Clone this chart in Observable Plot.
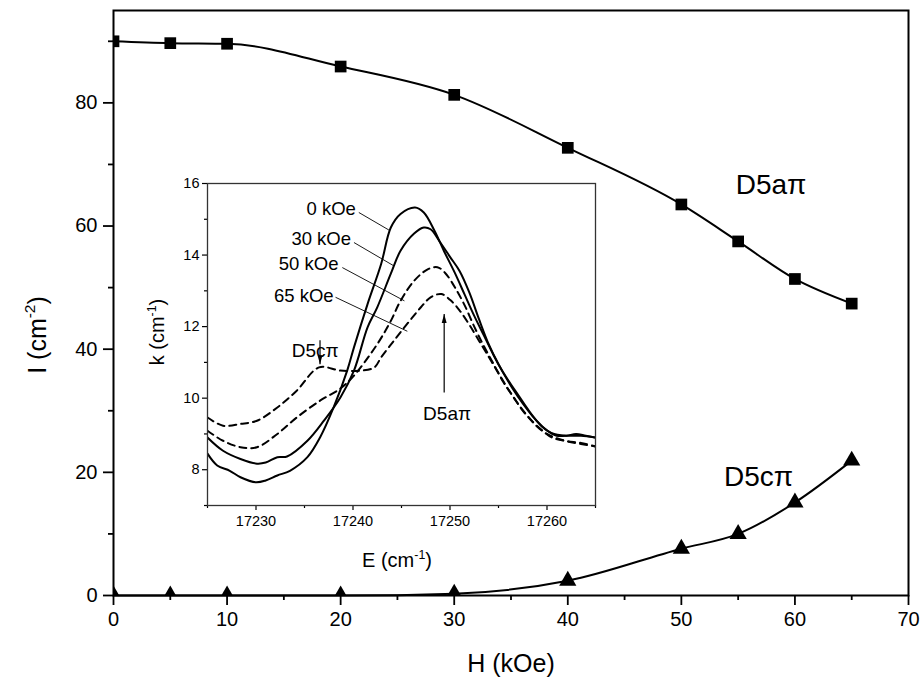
<!DOCTYPE html>
<html><head><meta charset="utf-8">
<script src="https://cdn.jsdelivr.net/npm/d3@7"></script>
<script src="https://cdn.jsdelivr.net/npm/@observablehq/plot@0.6"></script>
<style>
body{margin:0;background:white;}
#wrap{position:relative;width:924px;height:684px;}
#inset{position:absolute;left:140px;top:170px;pointer-events:none;}
</style></head><body><div id="wrap"><div id="main"></div><div id="inset"></div></div>
<script>
// ---------- main chart data ----------
const fieldH = [0, 5, 10, 20, 30, 40, 50, 55, 60, 65];
const intensityA = [90.0, 89.7, 89.6, 85.9, 81.3, 72.7, 63.5, 57.5, 51.4, 47.4];
const intensityC = [0, 0, 0, 0, 0.3, 2.4, 7.6, 10.0, 15.1, 21.9];
const xTicksMain = [0, 10, 20, 30, 40, 50, 60, 70];
const xMinorMain = [5, 15, 25, 35, 45, 55, 65];
const yTicksMain = [0, 20, 40, 60, 80];
const yMinorMain = [10, 30, 50, 70, 90];
const mainLabelText = ["D5aπ", "D5cπ"];
const mainLabelH = [57.9, 56.8];
const mainLabelI = [66.6, 19.2];

// ---------- inset data (E in cm-1, k in cm-1) ----------
const E0  = [17225,17226,17227.3,17228.4,17230,17231,17232.2,17233.5,17235.3,17236.6,17238,17239.4,17240.1,17241.5,17242.9,17243.9,17244.9,17246.4,17247.3,17248.4,17249.4,17250.5,17251.5,17252.5,17253.5,17254.5,17255.5,17256.5,17257.5,17258.5,17259.5,17260.5,17262,17263.5,17265];
const k0  = [8.45,8.12,7.97,7.79,7.65,7.7,7.84,7.97,8.35,8.9,9.74,10.77,11.42,12.63,13.75,14.77,15.15,15.33,15.19,14.68,14.1,13.5,12.9,12.3,11.75,11.2,10.7,10.25,9.85,9.5,9.2,9.02,8.95,8.95,8.9];
const E30 = [17225,17226.6,17228.4,17230.1,17231,17232.2,17233.2,17235.3,17237,17238.7,17240.1,17241.5,17242.5,17243.9,17244.9,17246.3,17247.3,17248,17249,17250,17251,17252,17253,17254,17255,17256,17257,17258,17259,17260,17261,17262,17263,17264,17265];
const k30 = [8.9,8.53,8.3,8.17,8.2,8.35,8.37,8.81,9.37,10.02,10.77,11.98,12.54,13.48,14.12,14.6,14.77,14.72,14.35,13.95,13.55,12.95,12.2,11.5,10.95,10.5,10.1,9.7,9.35,9.1,8.95,8.95,9.0,8.95,8.9];
const E50 = [17225,17226.6,17228.4,17230.1,17232.2,17234.2,17236.6,17238.7,17240.1,17242.5,17243.9,17244.9,17246.3,17247.7,17248.7,17249.5,17250.5,17251.5,17252.5,17253.5,17254.5,17255.5,17256.5,17257.5,17258.5,17259.5,17260.5,17262,17263.5,17265];
const k50 = [9.09,8.81,8.63,8.63,9.0,9.46,9.93,10.27,10.63,11.51,12.16,12.72,13.28,13.6,13.66,13.5,13.1,12.6,12.0,11.45,10.95,10.45,10.05,9.65,9.35,9.1,8.9,8.8,8.75,8.65];
const E65 = [17225,17226.6,17228.4,17230.1,17232.2,17234.2,17236.5,17238.7,17240.8,17242.2,17242.9,17244.2,17245.6,17247,17248,17249.1,17250,17251,17252,17253,17254,17255,17256,17257,17258,17259,17260,17261,17262,17263.5,17265];
const k65 = [9.46,9.23,9.28,9.37,9.74,10.21,10.86,10.77,10.77,10.86,11.14,11.6,12.08,12.54,12.82,12.91,12.75,12.45,12.05,11.6,11.15,10.7,10.25,9.85,9.5,9.2,9.0,8.88,8.8,8.72,8.65];
const fieldNames = ["0 kOe", "30 kOe", "50 kOe", "65 kOe"];
const insetXTicks = [17230, 17240, 17250, 17260];
const insetXMinor = [17225, 17235, 17245, 17255, 17265];
const insetYTicks = [8, 10, 12, 14, 16];
const insetYMinor = [7, 9, 11, 13, 15];
// label anchors (text end) and leader lines
const fieldLabelE = [17240.3, 17239.8, 17238.5, 17238.0];
const fieldLabelK = [15.29, 14.46, 13.75, 12.86];
const leaderE1 = [17240.6, 17240.1, 17238.9, 17238.2];
const leaderK1 = [15.19, 14.35, 13.65, 12.82];
const leaderE2 = [17243.7, 17244.2, 17245.3, 17245.6];
const leaderK2 = [14.70, 13.70, 12.72, 11.87];
// peak markers: name, text position, arrow start, arrow tip
const peakName = ["D5cπ", "D5aπ"];
const peakTextE = [17236.1, 17249.7];
const peakTextK = [11.33, 9.57];
const peakArrowE = [17236.6, 17249.4];
const peakArrowK1 = [11.62, 10.16];
const peakArrowK2 = [10.95, 12.35];

const FONT = "'Liberation Sans', Arial, sans-serif";

// ---------- main chart ----------
const ptsA = fieldH.map((h, i) => ({h, v: intensityA[i]}));
const ptsC = fieldH.map((h, i) => ({h, v: intensityC[i]}));
const mainLabels = mainLabelText.map((t, i) => ({t, h: mainLabelH[i], v: mainLabelI[i]}));

const main = Plot.plot({
  width: 924, height: 684,
  marginLeft: 113, marginRight: 16, marginTop: 10, marginBottom: 89,
  x: {domain: [0, 70]},
  y: {domain: [0, 95]},
  style: {fontFamily: FONT, fontSize: "20px", color: "black", background: "white"},
  marks: [
    Plot.axisX({ticks: xTicksMain, tickSize: 10, tickPadding: 6, strokeWidth: 1.8, label: null, tickFormat: d => String(d), fontSize: 20}),
    Plot.axisX({ticks: xMinorMain, tickSize: 5, strokeWidth: 1.8, label: null, tickFormat: () => ""}),
    Plot.axisY({ticks: yTicksMain, tickSize: 10, tickPadding: 6, strokeWidth: 1.8, label: null, tickFormat: d => String(d), fontSize: 20}),
    Plot.axisY({ticks: yMinorMain, tickSize: 5, strokeWidth: 1.8, label: null, tickFormat: () => ""}),
    Plot.line(ptsA, {x: "h", y: "v", curve: "monotone-x", stroke: "black", strokeWidth: 2}),
    Plot.line(ptsC, {x: "h", y: "v", curve: "monotone-x", stroke: "black", strokeWidth: 2}),
    Plot.dot(ptsA, {x: "h", y: "v", symbol: "square", r: 6.6, fill: "black", stroke: "none", clip: true}),
    Plot.dot(ptsC, {x: "h", y: "v", symbol: "triangle", r: 6.4, fill: "black", stroke: "none", clip: true}),
    Plot.frame({stroke: "black", strokeWidth: 2}),
    Plot.text(mainLabels, {x: "h", y: "v", text: "t", fontSize: 28, fill: "black"})
  ]
});
document.getElementById("main").appendChild(main);

// axis titles with superscripts
function addTitle(svg, x, y, rotate, size, parts) {
  const t = d3.select(svg).append("text")
    .attr("text-anchor", "middle")
    .attr("font-family", FONT).attr("font-size", size).attr("fill", "black")
    .attr("transform", `translate(${x},${y})` + (rotate ? " rotate(-90)" : ""));
  const sup = Math.round(size * 0.42);
  parts.forEach(p => {
    const s = t.append("tspan").text(p.text);
    if (p.sup) s.attr("font-size", size * 0.62).attr("dy", -sup);
    else if (p.after) s.attr("dy", sup);
  });
  return t;
}
addTitle(main, 511, 672, false, 25, [{text: "H (kOe)"}]);
addTitle(main, 46, 335, true, 25, [{text: "I (cm"}, {text: "-2", sup: true}, {text: ")", after: true}]);

// ---------- inset ----------
const spectra = [];
[[E0, k0], [E30, k30], [E50, k50], [E65, k65]].forEach(([E, k], j) => {
  E.forEach((e, i) => spectra.push({field: fieldNames[j], dashed: j >= 2, E: e, k: k[i]}));
});
const fieldLabels = fieldNames.map((t, i) => ({t, E: fieldLabelE[i], k: fieldLabelK[i],
  E1: leaderE1[i], k1: leaderK1[i], E2: leaderE2[i], k2: leaderK2[i]}));
const peaks = peakName.map((t, i) => ({t, E: peakTextE[i], k: peakTextK[i],
  aE: peakArrowE[i], k1: peakArrowK1[i], k2: peakArrowK2[i], up: peakArrowK2[i] > peakArrowK1[i]}));

const headSymbol = {draw(ctx, size) { const s = Math.sqrt(size); ctx.moveTo(0, 0); ctx.lineTo(s * 0.28, s); ctx.lineTo(-s * 0.28, s); ctx.closePath(); }};

const inset = Plot.plot({
  width: 470, height: 420,
  marginLeft: 67, marginRight: 15, marginTop: 13, marginBottom: 85,
  x: {domain: [17225, 17265]},
  y: {domain: [7, 16]},
  style: {fontFamily: FONT, fontSize: "14px", color: "black", background: "transparent"},
  marks: [
    Plot.axisX({ticks: insetXTicks, tickSize: 5, tickPadding: 5, strokeWidth: 1.2, label: null, tickFormat: d => String(d), fontSize: 14.5}),
    Plot.axisX({ticks: insetXMinor, tickSize: 3, strokeWidth: 1.2, label: null, tickFormat: () => ""}),
    Plot.axisY({ticks: insetYTicks, tickSize: 5, tickPadding: 3, strokeWidth: 1.2, label: null, tickFormat: d => String(d), fontSize: 14.5}),
    Plot.axisY({ticks: insetYMinor, tickSize: 3, strokeWidth: 1.2, label: null, tickFormat: () => ""}),
    Plot.line(spectra.filter(d => !d.dashed), {x: "E", y: "k", z: "field", curve: "catmull-rom", stroke: "black", strokeWidth: 2, clip: true}),
    Plot.line(spectra.filter(d => d.dashed), {x: "E", y: "k", z: "field", curve: "catmull-rom", stroke: "black", strokeWidth: 2, strokeDasharray: "7,5", clip: true}),
    Plot.link(fieldLabels, {x1: "E1", y1: "k1", x2: "E2", y2: "k2", stroke: "black", strokeWidth: 0.9}),
    Plot.text(fieldLabels, {x: "E", y: "k", text: "t", textAnchor: "end", fontSize: 18.5, fill: "black", letterSpacing: "-0.4px"}),
    Plot.link(peaks, {x1: "aE", y1: "k1", x2: "aE", y2: "k2", stroke: "black", strokeWidth: 1.2}),
    Plot.dot(peaks, {x: "aE", y: "k2", symbol: headSymbol, r: 5, fill: "black", stroke: "none", rotate: d => d.up ? 0 : 180}),
    Plot.text(peaks, {x: "E", y: "k", text: "t", fontSize: 19, fill: "black", letterSpacing: "-0.4px"}),
    Plot.frame({stroke: "#333", strokeWidth: 1.3})
  ]
});
document.getElementById("inset").appendChild(inset);
addTitle(inset, 257, 397, false, 20, [{text: "E (cm"}, {text: "-1", sup: true}, {text: ")", after: true}]);
addTitle(inset, 24, 162, true, 20, [{text: "k (cm"}, {text: "-1", sup: true}, {text: ")", after: true}]);
</script></body></html>
